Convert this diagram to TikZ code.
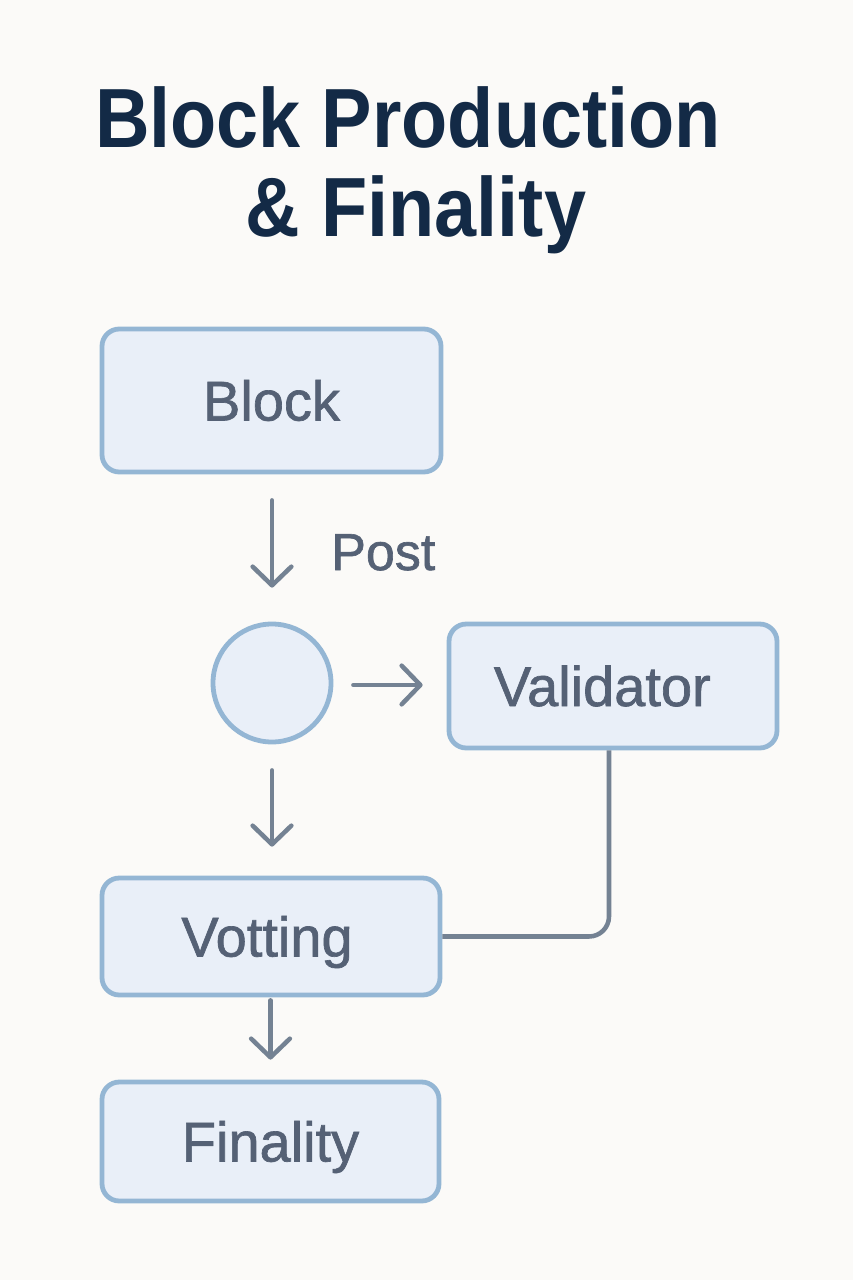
\documentclass[tikz,border=0pt]{standalone}
\usepackage{fontspec}
\setmainfont{Liberation Sans}[FakeBold=1.2]
\newfontfamily\titlefont[FakeStretch=0.9]{Liberation Sans Bold}
\usetikzlibrary{arrows.meta}
\definecolor{bgc}{HTML}{FBFAF8}
\definecolor{titlec}{HTML}{132A46}
\definecolor{labelc}{HTML}{556175}
\definecolor{borderc}{HTML}{94B6D4}
\definecolor{fillc}{HTML}{E9EFF8}
\definecolor{arrc}{HTML}{748293}
\tikzset{
  boxnode/.style={draw=borderc, fill=fillc, line width=3.6pt, rounded corners=13pt,
    font=\fontsize{42}{48}\selectfont, text=labelc, text height=30pt, text depth=0pt, inner sep=0pt},
  circnode/.style={circle, draw=borderc, fill=fillc, line width=3.6pt, inner sep=0pt, minimum size=88.5pt},
  arr/.style={draw=arrc, line width=3.4pt, line cap=round,
    -{Straight Barb[length=14pt, width=29pt, line width=3.4pt, round]}},
  conn/.style={draw=arrc, line width=3.4pt, rounded corners=15pt},
  titletext/.style={font=\titlefont\fontsize{63}{70}\selectfont, text=titlec, anchor=base, inner sep=0pt}
}
\begin{document}
\begin{tikzpicture}[x=0.75pt,y=-0.75pt]
\fill[bgc] (0,0) rectangle (853,1280);
\useasboundingbox (0,0) rectangle (853,1280);
\node[titletext] (t1) at (408,148) {Block Production};
\node[titletext] (t2) at (416,237) {\& Finality};
\node[boxnode, minimum width=254.25pt, minimum height=107.25pt] (block) at (271.5,400.5) {Block};
\node[circnode] (circ) at (272,683) {};
\node[boxnode, minimum width=246pt, minimum height=93pt, text width=246pt, align=center] (valid) at (613,686) {\hspace*{-16pt}Validator};
\node[boxnode, minimum width=253.5pt, minimum height=87.75pt, text width=253.5pt, align=center] (vot) at (271,936.5) {\hspace*{-6pt}Votting};
\node[boxnode, minimum width=252.75pt, minimum height=89.25pt] (fin) at (270.5,1141.5) {Finality};
\node[font=\fontsize{39}{44}\selectfont, text=labelc, inner sep=0pt, anchor=base west] (post) at (331,570) {Post};
\draw[arr, shorten <=19.5pt, shorten >=25.5pt] (block.south -| circ.north) -- (circ.north);
\draw[arr, shorten <=15pt, shorten >=18pt] ([yshift=-1.5pt]circ.east) -- ([yshift=-1.5pt]circ.east -| valid.west);
\draw[arr, shorten <=19.5pt, shorten >=21.75pt] (circ.south) -- (circ.south |- vot.north);
\draw[arr, shorten <=2.25pt, shorten >=15pt] (vot.south -| fin.north) -- (fin.north);
\draw[conn] ([xshift=-3pt]valid.south) |- (vot.east);
\end{tikzpicture}
\end{document}
